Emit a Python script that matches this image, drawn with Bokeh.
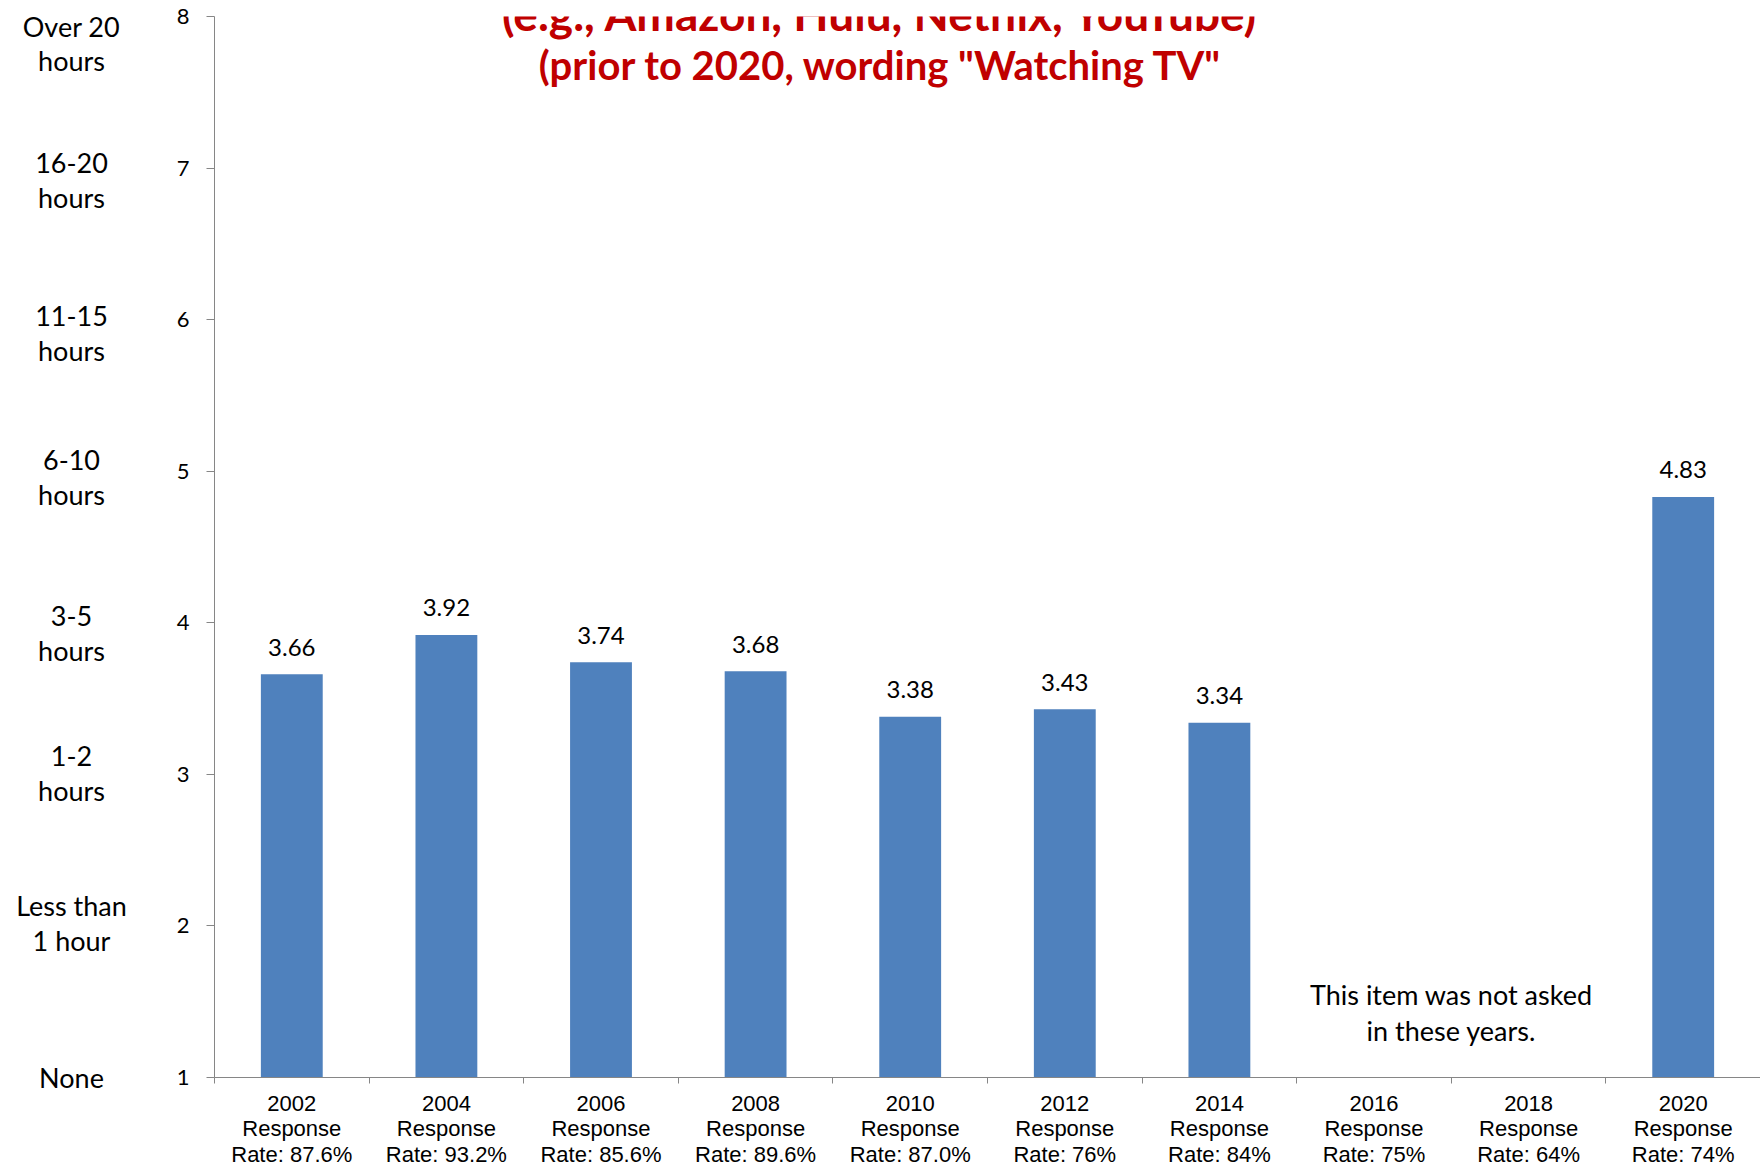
from bokeh.plotting import figure
from bokeh.models import FixedTicker, Label, ColumnDataSource, Range1d
from bokeh.layouts import row
from bokeh.embed import file_html
from bokeh.resources import INLINE
from bokeh.core.properties import value

# ---- data ----
years = ["2002", "2004", "2006", "2008", "2010", "2012", "2014", "2016", "2018", "2020"]
response_rates = ["87.6%", "93.2%", "85.6%", "89.6%", "87.0%", "76%", "84%", "75%", "64%", "74%"]
means = [3.66, 3.92, 3.74, 3.68, 3.38, 3.43, 3.34, None, None, 4.83]
scale_values = [1, 2, 3, 4, 5, 6, 7, 8]
scale_labels = ["None", "Less than\n1 hour", "1-2\nhours", "3-5\nhours",
                "6-10\nhours", "11-15\nhours", "16-20\nhours", "Over 20\nhours"]
title_lines = ["(e.g., Amazon, Hulu, Netflix, YouTube)",
               "(prior to 2020, wording \"Watching TV\""]
note_text = "This item was not asked\nin these years."

# ---- layout constants ----
W = 1760
HT = 1175             # total height of both panels (bottom few px fall below the window)
LEFT_W = 150          # width of the panel holding the scale wording
BORDER_L = 214        # page x of the value axis
TOP = 16              # page y of the top of the plot frame
FRAME_W = W - BORDER_L
FRAME_H = 1061
LABEL_NUDGE = [0, -3, -1, 10, 6, 13, 12, 27]   # px each wording block sits below its tick

FONT = "Lato"
BAR = "#4F81BD"
AXIS = "#868686"
RED = "#C00000"

Y0, Y1 = min(scale_values), max(scale_values)
unit = FRAME_H / (Y1 - Y0)

# ---- derived ----
idx = list(range(1, len(years) + 1))
bx = [i for i, v in zip(idx, means) if v is not None]
bv = [v for v in means if v is not None]
src = ColumnDataSource(dict(x=bx, top=bv, lab=["%.2f" % v for v in bv]))

p = figure(width=FRAME_W + BORDER_L - LEFT_W, height=HT, title=None,
           output_backend="svg", toolbar_location=None,
           x_range=Range1d(0.5, len(years) + 0.5), y_range=Range1d(Y0, Y1),
           min_border_left=BORDER_L - LEFT_W, min_border_right=0, min_border_top=TOP,
           min_border_bottom=HT - TOP - FRAME_H)
p.outline_line_color = None
p.grid.visible = False
p.background_fill_color = "white"
p.border_fill_color = "white"

p.vbar(x="x", top="top", bottom=Y0, width=0.4, source=src, fill_color=BAR, line_color=None)
p.text(x="x", y="top", text="lab", source=src, text_align="center", text_baseline="middle",
       y_offset=-27, text_font=value(FONT), text_font_size="24px", text_color="black")

# x axis
xa = p.xaxis[0]
xa.ticker = FixedTicker(ticks=idx, minor_ticks=[i - 0.5 for i in idx] + [len(idx) + 0.5])
xa.major_label_overrides = {i: f"{y}\nResponse\nRate: {r}" for i, y, r in zip(idx, years, response_rates)}
xa.major_tick_out = 0
xa.major_tick_in = 0
xa.minor_tick_out = 6
xa.minor_tick_in = 0
xa.minor_tick_line_color = AXIS
xa.axis_line_color = AXIS
xa.major_label_standoff = 7
xa.major_label_text_font = "Liberation Sans"
xa.major_label_text_font_size = "22px"
xa.major_label_text_line_height = 1.03
xa.major_label_text_color = "black"

# y axis (numeric)
ya = p.yaxis[0]
ya.ticker = FixedTicker(ticks=scale_values, minor_ticks=[])
ya.major_tick_out = 8
ya.major_tick_in = 0
ya.major_tick_line_color = AXIS
ya.axis_line_color = AXIS
ya.major_label_standoff = 17
ya.major_label_text_font = FONT
ya.major_label_text_font_size = "22px"
ya.major_label_text_color = "black"

# title lines (cut at top like the reference)
p.add_layout(Label(x=4.81, y=8.02, text=title_lines[0], text_align="center", text_baseline="middle",
                   text_font=FONT, text_font_size="46px", text_font_style="bold", text_color=RED,
                   level="overlay"))
p.add_layout(Label(x=4.81, y=7.68, text=title_lines[1], text_align="center", text_baseline="middle",
                   text_font=FONT, text_font_size="40px", text_font_style="bold", text_color=RED,
                   level="overlay"))

# note
p.add_layout(Label(x=8.5, y=1.43, text=note_text, text_align="center", text_baseline="middle",
                   text_font=FONT, text_font_size="27px", text_color="black", text_line_height=1.1))

# ---- left panel with the wording of each scale value (same vertical scale) ----
lp = figure(frame_width=LEFT_W, frame_height=HT, title=None,
            output_backend="svg", toolbar_location=None,
            x_range=Range1d(0, LEFT_W),
            y_range=Range1d(Y0 - (HT - TOP - FRAME_H) / unit, Y1 + TOP / unit),
            x_axis_location=None, y_axis_location=None,
            min_border_left=0, min_border_right=0, min_border_top=0, min_border_bottom=0)
try:
    lp.frame_align = False
except AttributeError:
    pass
lp.outline_line_color = None
lp.grid.visible = False
lp.background_fill_color = "white"
lp.border_fill_color = "white"
lsrc = ColumnDataSource(dict(
    x=[71] * len(scale_values), y=scale_values, t=scale_labels, off=LABEL_NUDGE))
lp.text(x="x", y="y", text="t", y_offset="off", source=lsrc, text_align="center",
        text_baseline="middle", text_font=value(FONT), text_font_size="27px",
        text_line_height=1.06, text_color="black")

layout = row(lp, p)
open("out.html", "w").write(file_html(layout, INLINE))
